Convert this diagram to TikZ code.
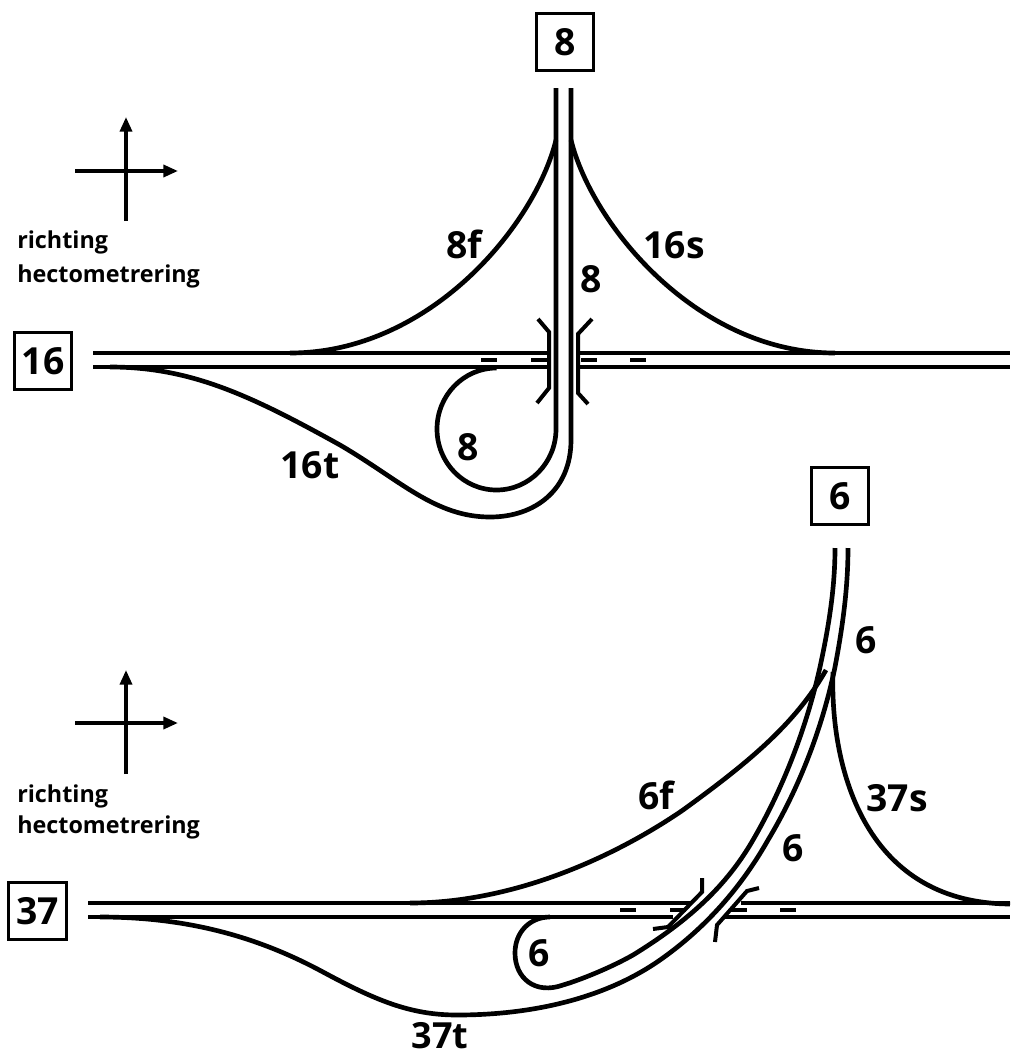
\documentclass[tikz,border=0pt]{standalone}
\usepackage{fontspec}
\setmainfont{Open Sans}
\usepackage{tikz}
\usetikzlibrary{positioning,arrows.meta}
\tikzset{
  road/.style={
    line width=3.5pt, black
  },
  bridgeline/.style={
    line width=3pt, black
  },
  dashmark/.style={
    line width=2.4pt, black
  },
  axisarr/.style={
    -{Triangle[length=11pt,width=9pt]}, line width=2.6pt, black
  },
  numbox/.style={
    draw, line width=2.2pt, fill=white, minimum width=43pt, minimum height=43pt,
    inner sep=0pt, font=\fontsize{28}{28}\selectfont\bfseries
  },
  roadlabel/.style={
    inner sep=0pt, font=\fontsize{28}{28}\selectfont\bfseries
  },
  notelabel/.style={
    inner sep=0pt, anchor=west, font=\fontsize{17.5}{17.5}\selectfont\bfseries
  }
}
\begin{document}
\begin{tikzpicture}[x=0.75pt,y=-0.75pt]
\useasboundingbox (0,0) rectangle (1014,1057);

\node[numbox] (box8) at (565,42) {8};
\node[numbox] (box16) at (43,361) {16};
\node[numbox] (box6) at (840,496) {6};
\node[numbox] (box37) at (37.5,911) {37};

\coordinate (ntop) at (126,117);
\coordinate (nbot) at (126,221);
\coordinate (ntopb) at (126,670);
\coordinate (nbotb) at (126,774);
\coordinate (eleft) at (75,171);
\coordinate (eright) at (178,171);
\coordinate (eleftb) at (75,723);
\coordinate (erightb) at (178,723);
\draw[axisarr] (nbot) -- (ntop);
\draw[axisarr] (eleft) -- (eright);
\draw[axisarr] (nbotb) -- (ntopb);
\draw[axisarr] (eleftb) -- (erightb);

\node[notelabel] (dir1) at (17,242) {richting};
\node[notelabel] (hec1) at (17,276) {hectometrering};
\node[notelabel] (dir2) at (17,796) {richting};
\node[notelabel] (hec2) at (17,827) {hectometrering};

% upper junction
\draw[road] (93,353) -- (549,353);
\draw[road] (93,367) -- (549,367);
\draw[road] (578,353) -- (1010,353);
\draw[road] (578,367) -- (1010,367);
\draw[road] (556,88) -- (556,429) arc[start angle=0,end angle=270,x radius=59.5,y radius=61];
\draw[road] (571,88) -- (571,440) .. controls (571,490) and (535,517) .. (490,517)
  .. controls (435,517) and (400,480) .. (340,445) .. controls (250,395) and (190,367) .. (110,367);
\draw[road] (556,140) .. controls (535,225) and (430,353) .. (290,353);
\draw[road] (571,140) .. controls (592,225) and (697,353) .. (835,353);
\draw[bridgeline] (538,319) -- (549,332) -- (549,388) -- (537,403);
\draw[bridgeline] (592,319) -- (578,334) -- (578,393) -- (588,404);
\foreach \dx in {481,531,581,630}
  \draw[dashmark] (\dx,360) -- ++(16,0);

% lower junction
\draw[road] (88,903) -- (691,903);
\draw[road] (88,917) -- (673,917);
\draw[road] (741,903) -- (1010,903);
\draw[road] (723,917) -- (1010,917);
\draw[road] (835,548) .. controls (835,590) and (828,630) .. (820,667)
  .. controls (806,730) and (782,790) .. (753,840)
  .. controls (727,885) and (690,920) .. (633,955)
  .. controls (610,968) and (580,980) .. (563,985)
  .. controls (535,995) and (515,978) .. (515,953)
  .. controls (515,932) and (530,917) .. (550,917);
\draw[road] (848,548) .. controls (848,590) and (842,630) .. (835,667)
  .. controls (822,730) and (798,790) .. (768,840)
  .. controls (738,893) and (700,932) .. (660,960)
  .. controls (610,995) and (540,1015) .. (457,1015)
  .. controls (410,1015) and (375,1000) .. (323,972)
  .. controls (260,938) and (190,917) .. (100,917);
\draw[road] (826,670) .. controls (795,725) and (745,765) .. (683,810)
  .. controls (610,860) and (510,903) .. (410,903);
\draw[road] (833,672) .. controls (830,760) and (860,903) .. (1010,904);
\draw[bridgeline] (702,878) -- (702,892) -- (668,927) -- (653,929);
\draw[bridgeline] (759,888) -- (747,891) -- (717,925) -- (715,942);
\foreach \dx in {620,670,731,780}
  \draw[dashmark] (\dx,910) -- ++(16,0);

\node[roadlabel] (l8f) at (464,244) {8f};
\node[roadlabel] (l16s) at (674,245) {16s};
\node[roadlabel] (l8a) at (591,279) {8};
\node[roadlabel] (l8b) at (468,447) {8};
\node[roadlabel] (l16t) at (310,465) {16t};
\node[roadlabel] (l6a) at (866,640) {6};
\node[roadlabel] (l6f) at (656,795) {6f};
\node[roadlabel] (l37s) at (897,798) {37s};
\node[roadlabel] (l6b) at (793,848) {6};
\node[roadlabel] (l6c) at (539,953) {6};
\node[roadlabel, font=\fontsize{27}{27}\selectfont\bfseries] (l37t) at (440,1036) {37t};
\end{tikzpicture}
\end{document}
